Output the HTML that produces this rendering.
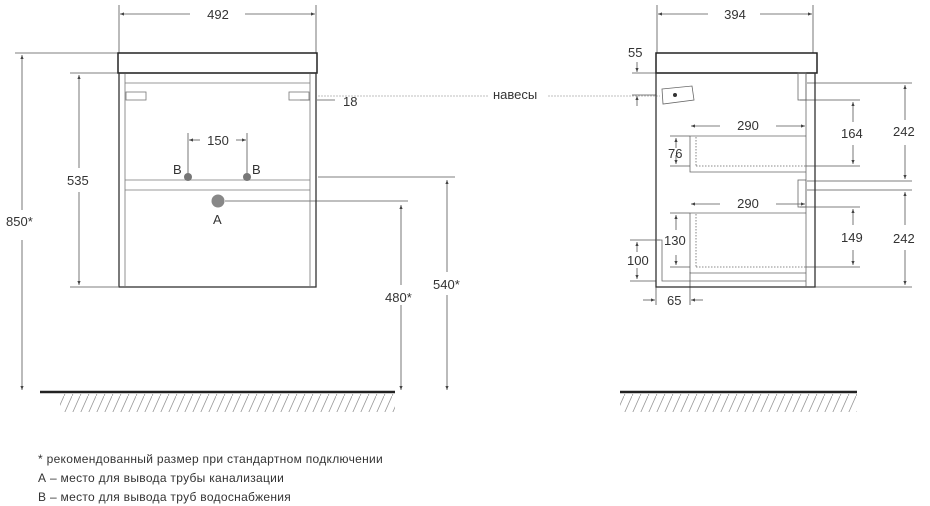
<!DOCTYPE html>
<html><head><meta charset="utf-8"><style>
body{margin:0;background:#fff;width:930px;height:506px;overflow:hidden}
svg{display:block}
text{font-family:"Liberation Sans",sans-serif;fill:#333}
</style></head><body>
<svg width="930" height="506" viewBox="0 0 930 506">
<defs>
<marker id="a" viewBox="0 0 10 10" refX="10" refY="5" markerWidth="5" markerHeight="5" orient="auto-start-reverse"><path d="M0,1 L10,5 L0,9z" fill="#444"/></marker>
<pattern id="h" width="8" height="18" patternUnits="userSpaceOnUse"><line x1="8" y1="0" x2="0" y2="18" stroke="#999" stroke-width="0.8"/></pattern>
</defs>
<g stroke="#555" stroke-width="0.8" fill="none">
<line x1="119" y1="5" x2="119" y2="53"/><line x1="316" y1="5" x2="316" y2="53"/>
<line x1="120" y1="14" x2="190" y2="14" marker-start="url(#a)"/><line x1="245" y1="14" x2="315" y2="14" marker-end="url(#a)"/>
<line x1="15" y1="53" x2="118" y2="53"/>
<line x1="22" y1="55" x2="22" y2="210" marker-start="url(#a)"/><line x1="22" y1="240" x2="22" y2="390" marker-end="url(#a)"/>
<line x1="70" y1="73" x2="118" y2="73"/><line x1="70" y1="287" x2="118" y2="287"/>
<line x1="79" y1="75" x2="79" y2="168" marker-start="url(#a)"/><line x1="79" y1="192" x2="79" y2="285" marker-end="url(#a)"/>
<line x1="188" y1="133" x2="188" y2="177"/><line x1="247" y1="133" x2="247" y2="177"/>
<line x1="189" y1="140" x2="200" y2="140" marker-start="url(#a)"/><line x1="236" y1="140" x2="246" y2="140" marker-end="url(#a)"/>
<line x1="317" y1="100" x2="335" y2="100"/>
<line x1="310" y1="100" x2="300" y2="100"/>
<line x1="318" y1="177" x2="455" y2="177"/><line x1="225" y1="201" x2="408" y2="201"/>
<line x1="401" y1="205" x2="401" y2="285" marker-start="url(#a)"/><line x1="401" y1="305" x2="401" y2="390" marker-end="url(#a)"/>
<line x1="447" y1="180" x2="447" y2="272" marker-start="url(#a)"/><line x1="447" y1="295" x2="447" y2="390" marker-end="url(#a)"/>
</g>
<rect x="118" y="53" width="199" height="20" fill="none" stroke="#222" stroke-width="1.5"/>
<rect x="119" y="73" width="197" height="214" fill="none" stroke="#333" stroke-width="1.3"/>
<g stroke="#777" stroke-width="0.8" fill="none">
<line x1="125" y1="74" x2="125" y2="287"/><line x1="310" y1="74" x2="310" y2="287"/>
<line x1="125" y1="83" x2="310" y2="83"/>
<line x1="125" y1="180" x2="310" y2="180"/><line x1="125" y1="190" x2="310" y2="190"/>
<rect x="126" y="92" width="20" height="8"/><rect x="289" y="92" width="20" height="8"/>
</g>
<circle cx="188" cy="177" r="4" fill="#777"/><circle cx="247" cy="177" r="4" fill="#777"/>
<circle cx="218" cy="201" r="6.5" fill="#888"/>
<g font-size="13">
<text x="218" y="19" text-anchor="middle">492</text>
<text x="6" y="226">850*</text>
<text x="67" y="185">535</text>
<text x="218" y="145" text-anchor="middle">150</text>
<text x="173" y="174">B</text><text x="252" y="174">B</text>
<text x="213" y="224">A</text>
<text x="343" y="106">18</text>
<text x="385" y="302">480*</text>
<text x="433" y="289">540*</text>
<text x="493" y="99">навесы</text>
</g>
<line x1="318" y1="96" x2="488" y2="96" stroke="#aaa" stroke-width="0.8" stroke-dasharray="2,1"/>
<line x1="548" y1="96" x2="660" y2="96" stroke="#aaa" stroke-width="0.8" stroke-dasharray="2,1"/>
<line x1="40" y1="392" x2="395" y2="392" stroke="#222" stroke-width="2.5"/>
<rect x="60" y="394" width="335" height="18" fill="url(#h)"/>
<line x1="620" y1="392" x2="857" y2="392" stroke="#222" stroke-width="2.5"/>
<rect x="620" y="394" width="237" height="18" fill="url(#h)"/>
<g stroke="#555" stroke-width="0.8" fill="none">
<line x1="657" y1="5" x2="657" y2="53"/><line x1="813" y1="5" x2="813" y2="53"/>
<line x1="658" y1="14" x2="708" y2="14" marker-start="url(#a)"/><line x1="760" y1="14" x2="812" y2="14" marker-end="url(#a)"/>
<line x1="632" y1="73" x2="656" y2="73"/><line x1="632" y1="95" x2="656" y2="95"/>
<line x1="637" y1="62" x2="637" y2="72" marker-end="url(#a)"/><line x1="637" y1="106" x2="637" y2="96" marker-end="url(#a)"/>
<line x1="807" y1="83" x2="912" y2="83"/><line x1="807" y1="181" x2="912" y2="181"/><line x1="807" y1="190" x2="912" y2="190"/><line x1="815" y1="287" x2="912" y2="287"/>
<line x1="905" y1="85" x2="905" y2="120" marker-start="url(#a)"/><line x1="905" y1="145" x2="905" y2="179" marker-end="url(#a)"/>
<line x1="905" y1="192" x2="905" y2="225" marker-start="url(#a)"/><line x1="905" y1="250" x2="905" y2="285" marker-end="url(#a)"/>
<line x1="800" y1="100" x2="860" y2="100"/><line x1="806" y1="166" x2="860" y2="166"/>
<line x1="853" y1="102" x2="853" y2="122" marker-start="url(#a)"/><line x1="853" y1="145" x2="853" y2="164" marker-end="url(#a)"/>
<line x1="800" y1="207" x2="860" y2="207"/><line x1="806" y1="267" x2="860" y2="267"/>
<line x1="853" y1="209" x2="853" y2="225" marker-start="url(#a)"/><line x1="853" y1="250" x2="853" y2="265" marker-end="url(#a)"/>
<line x1="691" y1="126" x2="720" y2="126" marker-start="url(#a)"/><line x1="776" y1="126" x2="805" y2="126" marker-end="url(#a)"/>
<line x1="691" y1="204" x2="720" y2="204" marker-start="url(#a)"/><line x1="776" y1="204" x2="805" y2="204" marker-end="url(#a)"/>
<line x1="670" y1="136" x2="690" y2="136"/><line x1="670" y1="166" x2="690" y2="166"/>
<line x1="676" y1="138" x2="676" y2="148" marker-start="url(#a)"/><line x1="676" y1="155" x2="676" y2="164" marker-end="url(#a)"/>
<line x1="670" y1="213" x2="690" y2="213"/><line x1="670" y1="267" x2="690" y2="267"/>
<line x1="676" y1="215" x2="676" y2="230" marker-start="url(#a)"/><line x1="676" y1="255" x2="676" y2="265" marker-end="url(#a)"/>
<line x1="630" y1="240" x2="660" y2="240"/><line x1="630" y1="281" x2="656" y2="281"/>
<line x1="637" y1="242" x2="637" y2="252" marker-start="url(#a)"/><line x1="637" y1="268" x2="637" y2="279" marker-end="url(#a)"/>
<line x1="656" y1="287" x2="656" y2="305"/><line x1="690" y1="272" x2="690" y2="305"/>
<line x1="655" y1="300" x2="643" y2="300" marker-start="url(#a)"/><line x1="691" y1="300" x2="703" y2="300" marker-start="url(#a)"/>
</g>
<rect x="656" y="53" width="161" height="20" fill="none" stroke="#222" stroke-width="1.5"/>
<rect x="656" y="73" width="159" height="214" fill="none" stroke="#333" stroke-width="1.3"/>
<g stroke="#666" stroke-width="0.8" fill="none">
<line x1="806" y1="74" x2="806" y2="287"/>
<rect x="798" y="73" width="8" height="27"/><rect x="798" y="180" width="8" height="27"/>
<polyline points="690,166 690,172 806,172"/><line x1="690" y1="136" x2="806" y2="136"/><line x1="690" y1="136" x2="690" y2="166"/>
<line x1="696" y1="137" x2="696" y2="166" stroke-dasharray="1.5,1.5"/><line x1="696" y1="166" x2="806" y2="166" stroke-dasharray="1.5,1.5"/>
<polyline points="690,213 690,273 806,273"/><line x1="690" y1="213" x2="806" y2="213"/>
<line x1="696" y1="214" x2="696" y2="267" stroke-dasharray="1.5,1.5"/><line x1="696" y1="267" x2="806" y2="267" stroke-dasharray="1.5,1.5"/>
<polyline points="656,240 662,240 662,281 806,281"/>
<polygon points="662,89 692,86 694,100 663,104"/>
</g>
<circle cx="675" cy="95" r="2" fill="#333"/>
<g font-size="13">
<text x="735" y="19" text-anchor="middle">394</text>
<text x="628" y="57">55</text>
<text x="748" y="130" text-anchor="middle">290</text>
<text x="748" y="208" text-anchor="middle">290</text>
<text x="668" y="158">76</text>
<text x="664" y="245">130</text>
<text x="627" y="265">100</text>
<text x="667" y="305">65</text>
<text x="841" y="138">164</text>
<text x="841" y="242">149</text>
<text x="893" y="136">242</text>
<text x="893" y="243">242</text>
</g>
<g font-size="12" letter-spacing="0.3">
<text x="38" y="463">* рекомендованный размер при стандартном подключении</text>
<text x="38" y="482">А – место для вывода трубы канализации</text>
<text x="38" y="501">В – место для вывода труб водоснабжения</text>
</g>
</svg>
</body></html>
